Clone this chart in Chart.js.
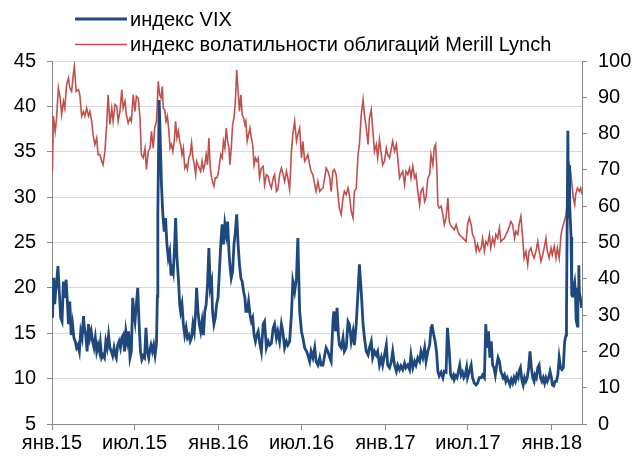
<!DOCTYPE html>
<html><head><meta charset="utf-8">
<script src="https://cdn.jsdelivr.net/npm/chart.js@4.4.1/dist/chart.umd.min.js"></script>
<style>html,body{margin:0;padding:0;background:#fff;}#wrap{width:636px;height:459px;position:relative;}</style>
</head><body><div id="wrap"><canvas id="c" width="636" height="459"></canvas></div>
<script>
// Series names (legend)
const seriesNames = ['индекс VIX', 'индекс волатильности облигаций Merill Lynch'];
// x tick positions: days since 1 Jan 2015, and their labels
const xTickDays = [0, 181, 365, 547, 731, 912, 1096];
const xTickLabels = ['янв.15', 'июл.15', 'янв.16', 'июл.16', 'янв.17', 'июл.17', 'янв.18'];
const xMaxDay = 1162;
// VIX (left axis): [day since 1 Jan 2015, value]
const vixData = [
[1,16.7],[4,21.1],[6,18.2],[8,19.6],[10,20.4],[13,22.4],[16,19.6],[19,16.7],[22,16.3],[25,20.7],[28,18.9],[31,20.9],[34,18.2],[36,16.0],[39,18.5],[42,14.8],[45,16.0],[48,14.5],[51,14.1],[54,13.4],[57,13.7],[60,13.0],[63,15.2],[66,14.5],[69,16.9],[71,15.6],[74,14.8],[77,13.0],[80,16.0],[83,14.5],[86,15.2],[89,14.1],[92,13.4],[95,14.5],[98,13.0],[101,13.7],[104,13.0],[106,13.9],[109,12.3],[112,12.6],[115,12.3],[118,14.1],[121,13.4],[124,14.8],[127,13.4],[130,13.0],[133,12.5],[136,13.4],[139,12.6],[141,12.3],[144,13.7],[147,14.1],[150,13.4],[153,14.5],[156,14.8],[159,13.0],[162,15.2],[165,14.1],[168,15.2],[171,12.3],[174,13.0],[177,18.9],[179,17.4],[182,16.3],[185,18.2],[188,20.0],[191,16.0],[194,13.0],[197,12.1],[200,12.5],[203,12.3],[206,15.6],[209,13.0],[212,12.3],[214,13.0],[217,13.7],[220,13.0],[223,13.7],[226,12.6],[229,13.8],[231,19.1],[232,28.0],[235,40.7],
[240,31.4],[243,28.1],[246,26.2],[249,27.7],[252,24.8],[255,23.3],[258,24.0],[261,21.5],[263,22.6],[266,21.8],[269,24.8],[271,27.7],[274,23.3],[277,21.1],[280,18.2],[282,17.4],[285,18.2],[288,16.0],[291,14.8],[294,15.6],[297,14.5],[300,14.8],[303,14.1],[306,14.5],[309,16.0],[312,15.2],[315,17.4],[317,20.0],[320,17.4],[323,16.0],[326,15.2],[329,16.3],[332,14.8],[335,17.4],[338,18.2],[341,20.4],[344,24.4],[347,20.0],[350,20.7],[352,17.4],[355,16.0],[358,16.7],[361,18.2],[364,18.9],[367,21.8],[370,24.8],[373,27.0],[376,24.8],[379,27.0],[382,25.9],[385,27.3],[388,24.0],[390,22.6],[393,21.1],[396,21.8],[399,24.8],[402,26.2],[405,28.1],[408,24.8],[411,22.6],[414,21.1],[417,20.7],[420,19.6],[423,18.9],[425,17.4],[428,17.4],[431,18.5],[434,17.1],[437,16.3],[440,16.7],[443,14.8],[446,14.1],[449,14.8],[452,15.2],
[455,14.1],[459,13.0],[463,16.0],[466,16.3],[470,13.4],[474,14.1],[477,13.7],[481,13.9],[485,15.6],[488,16.0],[492,14.5],[495,15.2],[499,14.1],[503,16.0],[506,15.2],[510,13.4],[514,14.1],[517,13.7],[521,14.1],[525,17.1],[528,20.7],[532,19.6],[536,21.1],[539,25.5],[543,17.4],[547,15.2],[550,14.5],[554,13.4],[558,13.0],[561,12.6],[565,11.9],[568,13.0],[572,12.3],[576,13.4],[579,11.9],[583,11.5],[587,12.3],[590,11.5],[594,11.5],[598,12.6],[601,13.4],[605,13.0],[609,12.3],[612,11.9],[616,16.3],[618,17.4],[622,15.2],[625,17.8],[628,14.8],[630,13.7],[634,13.4],[638,14.5],[641,13.0],[645,13.4],[649,16.3],[652,16.0],[656,14.1],[660,15.2],[663,13.7],[667,16.0],[671,19.6],[674,22.6],[678,19.6],[682,16.0],
[685,14.5],[689,13.0],[693,12.6],[696,13.4],[700,14.1],[703,12.3],[707,13.0],[711,12.6],[714,13.0],[718,11.5],[722,12.3],[725,11.5],[729,12.6],[733,13.7],[736,11.5],[740,11.2],[744,11.9],[747,13.0],[751,11.5],[755,10.8],[758,11.5],[762,11.0],[765,11.4],[769,11.0],[773,11.7],[776,11.2],[780,11.5],[784,11.0],[787,12.6],[791,11.2],[795,11.9],[798,11.5],[802,12.3],[806,11.9],[809,13.0],[813,12.3],[817,13.4],[820,11.9],[824,13.0],[828,13.7],[831,15.6],[833,16.0],[837,14.8],[840,14.1],[843,13.0],[846,10.8],[849,10.3],[853,10.7],[857,10.1],[860,10.8],[864,10.7],[867,15.6],[871,13.0],[874,10.4],[877,10.1],[880,10.4],[882,9.9],[885,10.3],[888,10.1],[891,10.8],[894,11.5],[897,10.4],[900,10.7],[903,10.1],[906,10.4],[909,11.2],[911,10.1],
[915,10.8],[919,11.5],[922,10.1],[926,9.5],[930,9.3],[933,9.5],[937,10.1],[941,10.1],[944,10.4],[948,10.1],[951,16.0],[954,13.4],[957,15.2],[960,12.3],[963,14.1],[966,11.5],[969,11.2],[972,10.4],[975,11.5],[978,12.3],[981,11.9],[984,10.8],[987,10.4],[989,10.1],[992,10.4],[995,9.7],[998,10.1],[1001,9.7],[1004,9.3],[1007,9.9],[1010,9.5],[1013,10.1],[1016,9.7],[1019,10.4],[1022,10.1],[1024,10.8],[1027,11.2],[1030,9.9],[1033,9.3],[1036,10.1],[1039,9.7],[1042,10.1],[1045,11.2],[1048,13.0],[1051,11.2],[1054,10.1],[1057,9.7],[1059,10.4],[1062,10.1],[1065,11.2],[1068,11.5],[1071,10.1],[1074,9.7],[1077,10.1],[1080,9.5],[1083,10.1],[1086,9.7],[1089,10.1],[1092,10.8],[1095,10.1],[1097,9.3],[1100,9.2],[1103,9.7],[1106,9.7],[1109,10.4],[1112,12.3],[1115,11.2],[1118,11.0],[1121,11.2],[1124,14.1],[1127,14.8],[1128,17.3],[1131,37.3],[1132,30.0],[1133,27.7],[1134,33.5],[1135,29.1],[1138,25.6],[1139,25.0],[1140,19.3],[1141,19.1],[1142,19.5],[1146,20.6],[1147,20.0],[1148,18.7],[1149,16.5],[1152,15.8],[1153,18.6],[1154,19.9],[1155,22.5],[1156,19.6],[1159,18.7],[1160,18.4],[1161,17.8]
];
// Merrill Lynch bond volatility index (right axis): [day since 1 Jan 2015, value]
const moveData = [
[1,69.6],[3,84.8],[7,80.6],[10,84.3],[14,92.6],[18,89.8],[21,85.2],[25,88.9],[28,87],[32,93.5],[36,95.3],[39,92.6],[43,91.6],[47,96.7],[49,98.5],[53,91.6],[58,92.1],[61,90.7],[65,84.8],[69,86.1],[72,84.8],[76,87],[80,84.8],[83,86.1],[87,83.4],[90,79.7],[94,77],[98,78.8],[101,74.2],[105,74.2],[109,72.4],[112,71.4],[116,75.1],[120,82.5],[123,90.7],[127,82.5],[131,87],[134,83.4],[138,88],[142,87.5],[145,83.4],[149,86.1],[153,92.1],[156,87],[160,88.9],[163,85.2],[167,82.9],[171,84.3],[174,83.4],[178,90.7],[182,86.1],[185,90.3],[189,89.8],[193,84.3],[196,74.2],[200,73.3],[204,76],[207,70.1],[211,75.1],[215,76],[218,80.6],[222,76],[225,81.5],[229,83.4],
[233,94.4],[236,90.7],[239,89.8],[242,93],[244,87],[247,86.6],[250,83.4],[253,84.8],[256,81.1],[259,76],[262,77],[265,75.1],[268,77.9],[271,83.4],[274,78.8],[277,80.6],[280,77.9],[282,77],[285,74.2],[288,76],[291,70.5],[294,71.4],[297,70.1],[300,73.3],[303,74.2],[306,77.4],[309,73.3],[312,71.4],[315,68.7],[317,72.4],[320,71.4],[323,70.5],[326,69.6],[329,72.4],[332,70.1],[335,71.4],[338,74.2],[341,71.4],[344,78.8],[347,70.5],[350,67.8],[352,66.8],[355,65.5],[358,67.8],[361,67.8],[364,68.7],[367,71.4],[370,74.2],[373,73.3],[376,77.9],[379,76],[382,81.5],[385,77.9],[388,76],[390,71.4],[393,76],[396,82.5],[399,84.3],[402,88.9],[405,97.6],[408,91.6],[411,86.1],[414,90.7],[417,85.2],[420,84.3],[423,82.5],[425,83.4],[428,77.9],[431,79.7],[434,81.5],[437,78.8],[440,77],[443,71.4],[446,73.3],[449,72.4],[452,73.3],
[455,67.8],[459,70.5],[463,71],[466,65.9],[470,68.7],[474,68.2],[477,66.4],[481,65],[485,67.8],[488,68.7],[492,64.1],[495,64.6],[499,68.7],[503,70.5],[506,69.1],[510,66.8],[514,69.6],[517,67.8],[521,64.6],[525,75.1],[528,79.7],[532,83.4],[536,77.9],[539,79.7],[543,81.5],[547,73.3],[550,77.9],[554,72.4],[558,73.3],[561,74.2],[565,71.4],[568,69.6],[572,68.7],[576,65.9],[579,64.1],[583,66.8],[587,64.1],[590,64.6],[594,65],[598,67.8],[601,70.5],[605,69.6],[609,67.8],[612,64.1],[616,69.6],[619,70.1],[623,68.7],[627,63.2],[630,59.5],[634,57.7],[638,62.3],[641,64.1],[645,63.2],[649,65],[652,63.2],[656,58.6],[660,56.8],[663,64.1],[667,65],[671,74.2],[674,77],[678,85.2],[682,89.3],
[685,85.2],[689,81.5],[693,77],[696,84.3],[700,86.6],[703,81.5],[707,75.1],[711,77],[714,73.3],[718,78.3],[722,74.2],[725,71.4],[729,72.4],[733,76],[736,74.2],[740,73.3],[744,76],[747,77.9],[751,75.1],[755,77],[758,73.3],[762,67.8],[765,68.7],[769,69.6],[773,65.9],[776,69.6],[780,68.7],[784,70.5],[787,67.8],[791,71],[795,67.8],[798,68.7],[802,64.1],[806,60.4],[809,64.1],[813,65],[817,61.3],[820,62.3],[824,67.8],[828,68.7],[831,74.2],[835,71.4],[838,76],[841,77],[844,69.6],[846,60.4],[849,59.5],[853,60],[857,57.7],[860,54.9],[864,56.8],[868,62.3],[871,55.8],[875,54.5],[879,54],[882,53.5],[886,54.9],[890,53.1],[893,52.2],[897,51.7],[901,51.2],[904,50.8],[908,50.3],[911,54.9],
[915,56.8],[919,54.9],[922,52.2],[926,51.2],[930,47.6],[933,49.4],[937,47.6],[941,48.5],[944,51.2],[948,47.6],[951,50.3],[955,49.4],[959,52.2],[962,48.5],[966,51.2],[970,49.4],[973,52.2],[977,51.2],[981,54],[984,50.3],[988,50.8],[992,51.2],[995,52.2],[999,53.1],[1003,54.5],[1006,55.8],[1010,54.9],[1014,51.2],[1017,53.1],[1021,52.2],[1024,54.9],[1028,57.2],[1032,51.2],[1035,45.7],[1039,47.6],[1043,43.9],[1046,47.6],[1050,48.5],[1054,46.6],[1057,45.7],[1061,47.6],[1065,50.3],[1068,47.6],[1072,44.8],[1076,46.6],[1079,48.5],[1083,51.2],[1086,47.6],[1090,45.7],[1094,48.5],[1097,46.6],[1101,49],[1105,45.7],[1108,48.5],[1112,45.7],[1116,52.2],[1119,54],[1123,55.8],[1127,57.7],[1130,61.3],[1134,71.4],[1137,69.6],[1140,65.9],[1143,62.3],[1146,60.4],[1148,63.2],[1152,65],[1156,64.1],[1159,65],[1162,63.2]
];
// Axis ranges
const leftAxis = {min: 5, max: 45, step: 5};
const rightAxis = {min: 0, max: 100, step: 10};

const FONT = '"Liberation Sans", Arial, sans-serif';
const BLUE = '#1F497D', RED = '#C0504D';

const legendPlugin = {
  id: 'stackedLegend',
  afterDraw(chart) {
    const ctx = chart.ctx;
    ctx.save();
    chart.data.datasets.forEach((ds, i) => {
      const y = 19 + i * 25.5;
      ctx.strokeStyle = ds.borderColor;
      ctx.lineWidth = ds.borderWidth;
      ctx.beginPath(); ctx.moveTo(75, y); ctx.lineTo(127, y); ctx.stroke();
      ctx.fillStyle = '#000';
      ctx.font = '20px ' + FONT;
      ctx.textBaseline = 'middle';
      ctx.textAlign = 'left';
      ctx.fillText(ds.label, 130, y + 1);
    });
    ctx.restore();
  }
};

new Chart(document.getElementById('c'), {
  type: 'line',
  data: {
    datasets: [
      {label: seriesNames[0], data: vixData.map(d => ({x: d[0], y: d[1]})), yAxisID: 'yL',
       borderColor: BLUE, borderWidth: 2.8, pointRadius: 0, tension: 0, fill: false},
      {label: seriesNames[1], data: moveData.map(d => ({x: d[0], y: d[1]})), yAxisID: 'yR',
       borderColor: RED, borderWidth: 1.6, pointRadius: 0, tension: 0, fill: false}
    ]
  },
  options: {
    responsive: false, devicePixelRatio: 1, animation: false,
    layout: {padding: {top: 61, left: 0, right: 0, bottom: 0}},
    plugins: {legend: {display: false}, tooltip: {enabled: false}},
    scales: {
      x: {
        type: 'linear', min: 0, max: xMaxDay,
        afterBuildTicks: s => { s.ticks = xTickDays.map(v => ({value: v})); },
        afterFit: s => { s.height = 35; },
        ticks: {autoSkip: false, maxRotation: 0, padding: 1, color: '#000', font: {family: FONT, size: 20},
                callback: v => xTickLabels[xTickDays.indexOf(v)]},
        grid: {drawOnChartArea: false, tickLength: 6, tickColor: '#888'},
        border: {color: '#888', width: 1}
      },
      yL: {
        position: 'left', min: leftAxis.min, max: leftAxis.max,
        afterFit: s => { s.width = 52; },
        ticks: {stepSize: leftAxis.step, padding: 11, color: '#000', font: {family: FONT, size: 20}},
        grid: {color: '#d9d9d9', lineWidth: 1, tickLength: 5, tickColor: '#888'},
        border: {color: '#888', width: 1}
      },
      yR: {
        position: 'right', min: rightAxis.min, max: rightAxis.max,
        afterFit: s => { s.width = 54; },
        ticks: {stepSize: rightAxis.step, padding: 11, color: '#000', font: {family: FONT, size: 20}},
        grid: {drawOnChartArea: false, tickLength: 5, tickColor: '#888'},
        border: {color: '#888', width: 1}
      }
    }
  },
  plugins: [legendPlugin]
});
</script></body></html>
